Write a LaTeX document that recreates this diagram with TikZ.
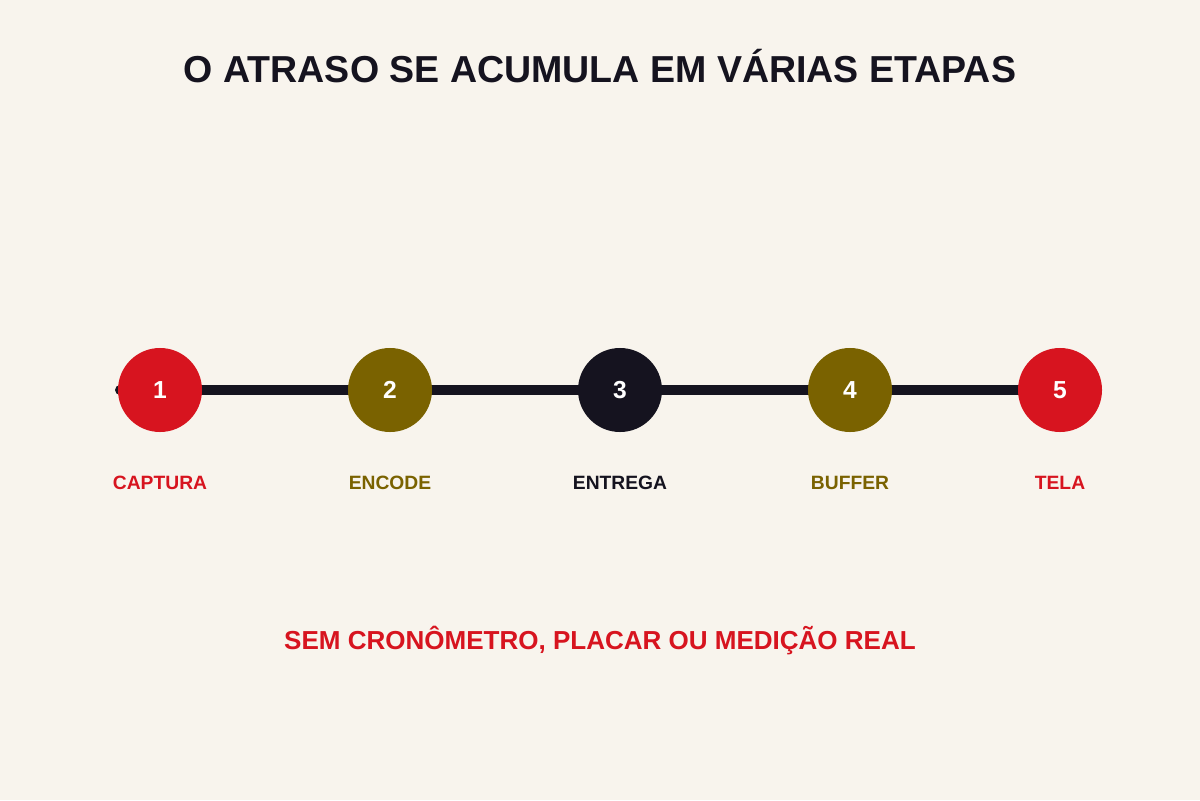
\documentclass[tikz,border=0pt]{standalone}
\usepackage{fontspec}
\setmainfont{Liberation Sans}
\definecolor{bg}{HTML}{F8F4ED}
\definecolor{redc}{HTML}{D7141F}
\definecolor{olive}{HTML}{7A6200}
\definecolor{ink}{HTML}{15131F}
\tikzset{
  stage/.style={circle,minimum size=2.1cm,inner sep=0pt,text=white,font=\bfseries\fontsize{17.5}{20}\selectfont},
  lbl/.style={font=\bfseries\fontsize{13.7}{16}\selectfont}
}
\begin{document}
\begin{tikzpicture}[x=0.025cm,y=-0.025cm]

% background
\fill[bg] (0,0) rectangle (1200,800);
\useasboundingbox (0,0) rectangle (1200,800);

% title
\node[text=ink,font=\bfseries\fontsize{26.7}{30}\selectfont] (title) at (600,66) {O ATRASO SE ACUMULA EM VÁRIAS ETAPAS};

% track
\coordinate (start) at (120,390);
\coordinate (end) at (1060,390);
\draw[ink,line width=7.1pt,line cap=round] (start) -- (end);

% stages
\foreach \n/\x/\c/\t in {1/160/redc/CAPTURA,2/390/olive/ENCODE,3/620/ink/ENTREGA,4/850/olive/BUFFER,5/1060/redc/TELA}{
  \node[stage,fill=\c] (s\n) at (\x,390) {\raisebox{-1pt}{\n}};
  \node[lbl,text=\c] (l\n) at (\x,483) {\t};
}

% note
\node[text=redc,font=\bfseries\fontsize{18.5}{22}\selectfont] (note) at (600,641) {SEM CRONÔMETRO, PLACAR OU MEDIÇÃO REAL};
\end{tikzpicture}
\end{document}
